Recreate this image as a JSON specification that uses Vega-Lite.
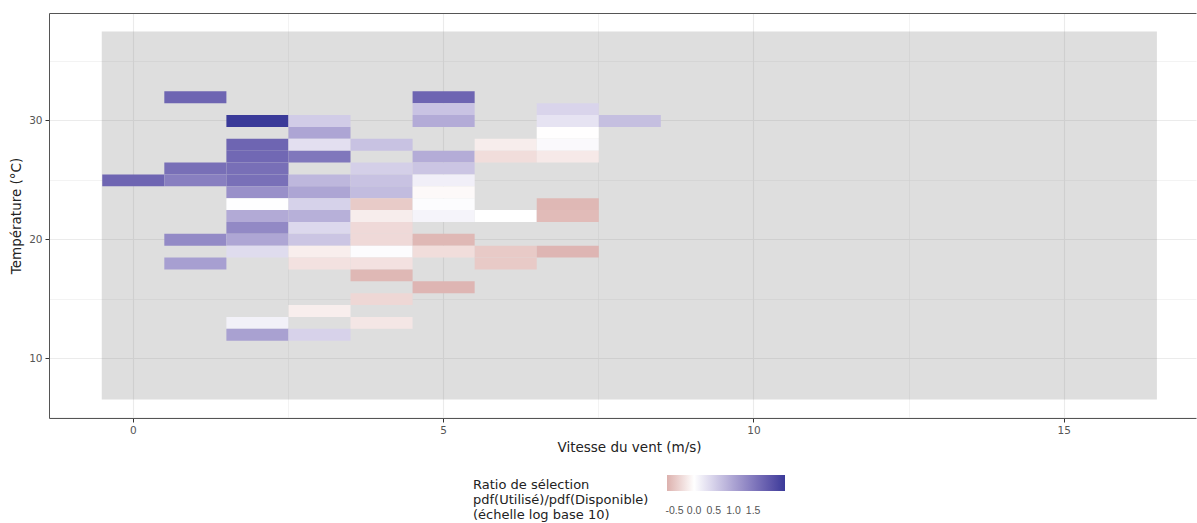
{
  "$schema": "https://vega.github.io/schema/vega-lite/v6.json",
  "width": 1147,
  "height": 405,
  "autosize": {"type": "none"},
  "padding": {"left": 49, "top": 13, "right": 1, "bottom": 105},
  "background": "white",
  "config": {"view": {"stroke": null}, "font": "DejaVu Sans"},
  "datasets": {
    "grille": [{"x_debut": -0.5, "x_fin": 16.5, "y_debut": 6.5, "y_fin": 37.5}],
    "tuiles": [
      {"vent": 0, "temp": 25, "ratio": 1.75},
      {"vent": 1, "temp": 32, "ratio": 1.75},
      {"vent": 1, "temp": 26, "ratio": 1.63},
      {"vent": 1, "temp": 25, "ratio": 1.44},
      {"vent": 1, "temp": 20, "ratio": 1.30},
      {"vent": 1, "temp": 18, "ratio": 1.06},
      {"vent": 2, "temp": 30, "ratio": 2.31},
      {"vent": 2, "temp": 28, "ratio": 1.75},
      {"vent": 2, "temp": 27, "ratio": 1.71},
      {"vent": 2, "temp": 26, "ratio": 1.63},
      {"vent": 2, "temp": 25, "ratio": 1.62},
      {"vent": 2, "temp": 24, "ratio": 1.23},
      {"vent": 2, "temp": 23, "ratio": 0.01},
      {"vent": 2, "temp": 22, "ratio": 0.93},
      {"vent": 2, "temp": 21, "ratio": 1.32},
      {"vent": 2, "temp": 20, "ratio": 0.98},
      {"vent": 2, "temp": 19, "ratio": 0.38},
      {"vent": 2, "temp": 13, "ratio": 0.15},
      {"vent": 2, "temp": 12, "ratio": 1.04},
      {"vent": 3, "temp": 30, "ratio": 0.55},
      {"vent": 3, "temp": 29, "ratio": 0.99},
      {"vent": 3, "temp": 28, "ratio": 0.34},
      {"vent": 3, "temp": 27, "ratio": 1.53},
      {"vent": 3, "temp": 25, "ratio": 0.78},
      {"vent": 3, "temp": 24, "ratio": 0.99},
      {"vent": 3, "temp": 23, "ratio": 0.49},
      {"vent": 3, "temp": 22, "ratio": 0.87},
      {"vent": 3, "temp": 21, "ratio": 0.42},
      {"vent": 3, "temp": 20, "ratio": 0.63},
      {"vent": 3, "temp": 19, "ratio": -0.15},
      {"vent": 3, "temp": 18, "ratio": -0.26},
      {"vent": 3, "temp": 14, "ratio": -0.15},
      {"vent": 3, "temp": 12, "ratio": 0.48},
      {"vent": 4, "temp": 28, "ratio": 0.66},
      {"vent": 4, "temp": 26, "ratio": 0.52},
      {"vent": 4, "temp": 25, "ratio": 0.66},
      {"vent": 4, "temp": 24, "ratio": 0.73},
      {"vent": 4, "temp": 23, "ratio": -0.46},
      {"vent": 4, "temp": 22, "ratio": -0.16},
      {"vent": 4, "temp": 21, "ratio": -0.33},
      {"vent": 4, "temp": 20, "ratio": -0.33},
      {"vent": 4, "temp": 19, "ratio": 0.03},
      {"vent": 4, "temp": 18, "ratio": -0.26},
      {"vent": 4, "temp": 17, "ratio": -0.63},
      {"vent": 4, "temp": 15, "ratio": -0.35},
      {"vent": 4, "temp": 13, "ratio": -0.22},
      {"vent": 5, "temp": 32, "ratio": 1.75},
      {"vent": 5, "temp": 31, "ratio": 0.65},
      {"vent": 5, "temp": 30, "ratio": 0.92},
      {"vent": 5, "temp": 27, "ratio": 0.91},
      {"vent": 5, "temp": 26, "ratio": 0.63},
      {"vent": 5, "temp": 25, "ratio": 0.17},
      {"vent": 5, "temp": 24, "ratio": -0.05},
      {"vent": 5, "temp": 23, "ratio": 0.03},
      {"vent": 5, "temp": 22, "ratio": 0.12},
      {"vent": 5, "temp": 20, "ratio": -0.63},
      {"vent": 5, "temp": 19, "ratio": -0.30},
      {"vent": 5, "temp": 16, "ratio": -0.65},
      {"vent": 6, "temp": 28, "ratio": -0.16},
      {"vent": 6, "temp": 27, "ratio": -0.30},
      {"vent": 6, "temp": 22, "ratio": 0.0},
      {"vent": 6, "temp": 19, "ratio": -0.47},
      {"vent": 6, "temp": 18, "ratio": -0.47},
      {"vent": 7, "temp": 31, "ratio": 0.46},
      {"vent": 7, "temp": 30, "ratio": 0.30},
      {"vent": 7, "temp": 29, "ratio": -0.01},
      {"vent": 7, "temp": 28, "ratio": 0.06},
      {"vent": 7, "temp": 27, "ratio": -0.19},
      {"vent": 7, "temp": 23, "ratio": -0.63},
      {"vent": 7, "temp": 22, "ratio": -0.60},
      {"vent": 7, "temp": 19, "ratio": -0.65},
      {"vent": 8, "temp": 30, "ratio": 0.70}
    ]
  },
  "layer": [
    {
      "data": {"name": "grille"},
      "mark": {"type": "rect", "color": "#7f7f7f", "opacity": 0.26},
      "encoding": {
        "x": {
          "field": "x_debut",
          "type": "quantitative",
          "scale": {"domain": [-1.35, 17.13], "nice": false, "zero": false},
          "axis": {
            "orient": "bottom",
            "title": "Vitesse du vent (m/s)",
            "values": [0, 2.5, 5, 7.5, 10, 12.5, 15],
            "labelExpr": "datum.value % 5 === 0 ? datum.label : ''",
            "labelOverlap": false,
            "labelFontSize": 10.5,
            "labelColor": "#555555",
            "labelPadding": 3,
            "tickColor": {"condition": {"test": "datum.value % 5 !== 0", "value": "transparent"}, "value": "#333333"},
            "tickSize": 4,
            "domainColor": "#555555",
            "gridColor": "#ebebeb",
            "gridWidth": {"condition": {"test": "datum.value % 5 !== 0", "value": 0.6}, "value": 1.1},
            "titleFontSize": 13.5,
            "titleFontWeight": "normal",
            "titleColor": "#222222",
            "titlePadding": 5,
            "titleX": 580
          }
        },
        "x2": {"field": "x_fin"},
        "y": {
          "field": "y_debut",
          "type": "quantitative",
          "scale": {"domain": [4.95, 39.05], "nice": false, "zero": false},
          "axis": {
            "orient": "left",
            "title": "Température (°C)",
            "values": [5, 10, 15, 20, 25, 30, 35],
            "labelExpr": "datum.value % 10 === 0 ? datum.label : ''",
            "labelOverlap": false,
            "labelFontSize": 10.5,
            "labelColor": "#555555",
            "labelPadding": 3,
            "tickColor": {"condition": {"test": "datum.value % 10 !== 0", "value": "transparent"}, "value": "#333333"},
            "tickSize": 4,
            "domainColor": "#555555",
            "gridColor": "#ebebeb",
            "gridWidth": {"condition": {"test": "datum.value % 10 !== 0", "value": 0.6}, "value": 1.1},
            "titleFontSize": 13.5,
            "titleFontWeight": "normal",
            "titleColor": "#222222",
            "titlePadding": 5
          }
        },
        "y2": {"field": "y_fin"}
      }
    },
    {
      "data": {"name": "tuiles"},
      "mark": {"type": "rect"},
      "encoding": {
        "x": {
          "field": "vent",
          "type": "quantitative",
          "bin": {"step": 1, "extent": [-0.5, 16.5], "nice": false},
          "axis": {"orient": "top", "labels": false, "ticks": false, "grid": false, "title": null, "domainColor": "#555555"}
        },
        "y": {
          "field": "temp",
          "type": "quantitative",
          "bin": {"step": 1, "extent": [6.5, 37.5], "nice": false},
          "axis": {"title": "Température (°C)"}
        },
        "color": {
          "field": "ratio",
          "type": "quantitative",
          "scale": {"type": "linear", "domain": [-0.69, 0, 2.31], "range": ["#dcb1ae", "#ffffff", "#3a3a99"], "interpolate": "lab"},
          "legend": {
            "orient": "none",
            "legendX": 424,
            "legendY": 462,
            "direction": "horizontal",
            "titleOrient": "left",
            "title": ["Ratio de sélection", "pdf(Utilisé)/pdf(Disponible)", "(échelle log base 10)"],
            "titleFontSize": 13,
            "titleFontWeight": "normal",
            "titleColor": "#222222",
            "titleLineHeight": 15,
            "titlePadding": 18,
            "titleBaseline": "top",
            "gradientLength": 118,
            "gradientThickness": 16,
            "gradientStrokeWidth": 0,
            "values": [-0.5, 0, 0.5, 1, 1.5],
            "labelExpr": "replace(format(datum.value, '.1f'), '−', '-')",
            "labelFont": "Liberation Sans",
            "labelFontSize": 10.5,
            "labelColor": "#555555",
            "labelOffset": 15,
            "labelOverlap": false,
            "encode": {"title": {"update": {"dy": {"value": 11}}}}
          }
        }
      }
    }
  ]
}
